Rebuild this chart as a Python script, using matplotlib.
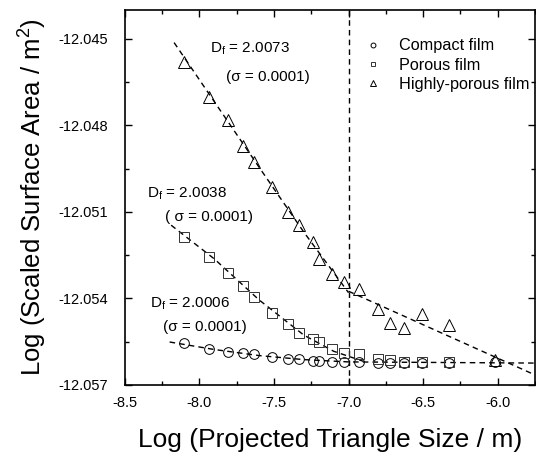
import matplotlib.pyplot as plt
import numpy as np

plt.rcParams['font.family'] = ['Liberation Sans', 'DejaVu Sans']
plt.rcParams['mathtext.fontset'] = 'custom'
plt.rcParams['mathtext.rm'] = 'Liberation Sans'
plt.rcParams['mathtext.it'] = 'Liberation Sans'
plt.rcParams['mathtext.default'] = 'regular'

# posições x (log do tamanho do triângulo)
x_pts = [-8.106, -7.938, -7.811, -7.711, -7.631, -7.511, -7.404, -7.330, -7.237, -7.197,
         -7.110, -7.029, -6.929, -6.802, -6.722, -6.628, -6.508, -6.328, -6.020]

# filme compacto
y_compact = [-12.05555, -12.05575, -12.05586, -12.05589, -12.05593, -12.05603, -12.05610,
             -12.05610, -12.05617, -12.05617, -12.05620, -12.05620, -12.05620, -12.05624,
             -12.05624, -12.05624, -12.05624, -12.05624, -12.05620]

# filme poroso (sem o último ponto)
x_porous = x_pts[:18]
y_porous = [-12.05188, -12.05257, -12.05312, -12.05357, -12.05396, -12.05451, -12.05489,
            -12.05520, -12.05541, -12.05551, -12.05575, -12.05589, -12.05593, -12.05610,
            -12.05613, -12.05620, -12.05620, -12.05620]

# filme altamente poroso
y_high = [-12.04582, -12.04703, -12.04783, -12.04870, -12.04928, -12.05015, -12.05101,
          -12.05146, -12.05205, -12.05264, -12.05316, -12.05344, -12.05368, -12.05437,
          -12.05485, -12.05503, -12.05454, -12.05492, -12.05613]

# curvas de ajuste (tracejadas)
fit_high1_x = [-8.17, -7.9, -7.6, -7.3, -7.0]
fit_high1_y = [-12.04513, -12.04718, -12.04945, -12.05170, -12.05380]
fit_high2_x = [-7.0, -5.75]
fit_high2_y = [-12.05375, -12.05665]
fit_porous_x = [-8.19, -7.9, -7.6, -7.3, -7.1, -6.9]
fit_porous_y = [-12.05146, -12.05263, -12.05405, -12.05527, -12.05583, -12.05618]
fit_compact_x = [-8.2, -7.9, -7.6, -7.3, -7.0, -5.75]
fit_compact_y = [-12.05551, -12.05577, -12.05598, -12.05612, -12.05620, -12.05624]

fig = plt.figure(figsize=(5.36, 4.54), dpi=100)
ax = fig.add_axes([0.233, 0.152, 0.765, 0.826])

dash = (0, (4, 3))
for fx, fy in [(fit_high1_x, fit_high1_y), (fit_high2_x, fit_high2_y),
               (fit_porous_x, fit_porous_y), (fit_compact_x, fit_compact_y)]:
    ax.plot(fx, fy, color='black', lw=1, linestyle=dash)
ax.axvline(-7.0, color='black', lw=1, linestyle=dash)

ax.plot(x_pts, y_compact, 'o', ms=7, mfc='none', mec='black', mew=0.7, label='Compact film')
ax.plot(x_porous, y_porous, 's', ms=6.5, mfc='none', mec='#333333', mew=0.7, label='Porous film')
ax.plot(x_pts, y_high, '^', ms=9, mfc='none', mec='black', mew=0.7, label='Highly-porous film')

# anotações D_f
ax.text(-7.932, -12.04534, r'D$_f$ = 2.0073', fontsize=11, va='center')
ax.text(-7.825, -12.04634, '(σ = 0.0001)', fontsize=11, va='center')
ax.text(-8.353, -12.05036, r'D$_f$ = 2.0038', fontsize=11, va='center')
ax.text(-8.233, -12.05119, '( σ = 0.0001)', fontsize=11, va='center')
ax.text(-8.333, -12.05420, r'D$_f$ = 2.0006', fontsize=11, va='center')
ax.text(-8.246, -12.05499, '(σ = 0.0001)', fontsize=11, va='center')

ax.set_xlim(-8.5, -5.75)
ax.set_ylim(-12.057, -12.044)
ax.set_xticks(np.arange(-8.5, -5.9, 0.5))
ax.set_xticks(np.arange(-8.25, -5.7, 0.5), minor=True)
ax.set_yticks(np.arange(-12.057, -12.0445, 0.003))
ax.set_yticks(np.arange(-12.0555, -12.044, 0.003), minor=True)
ax.set_xticklabels([f'{v:.1f}' for v in np.arange(-8.5, -5.9, 0.5)])
ax.set_yticklabels([f'{v:.3f}' for v in np.arange(-12.057, -12.0445, 0.003)])
ax.tick_params(which='both', direction='in', top=True, right=True, labelsize=10.5, width=1)
ax.tick_params(which='major', length=5)
ax.tick_params(which='minor', length=3)
ax.tick_params(axis='x', which='major', pad=8)
ax.tick_params(axis='y', which='major', pad=12)
for s in ax.spines.values():
    s.set_linewidth(1.2)

ax.set_xlabel('Log (Projected Triangle Size / m)', fontsize=19, labelpad=13)
ax.set_ylabel('Log (Scaled Surface Area / m$^2$)', fontsize=18.5, labelpad=7)

ax.legend(loc='upper left', bbox_to_anchor=(0.582, 0.924), frameon=False, fontsize=11.7,
          markerscale=0.5, handlelength=1.2, handletextpad=1.0, labelspacing=0.25,
          borderpad=0, borderaxespad=0)

plt.savefig('out.png', dpi=100)
